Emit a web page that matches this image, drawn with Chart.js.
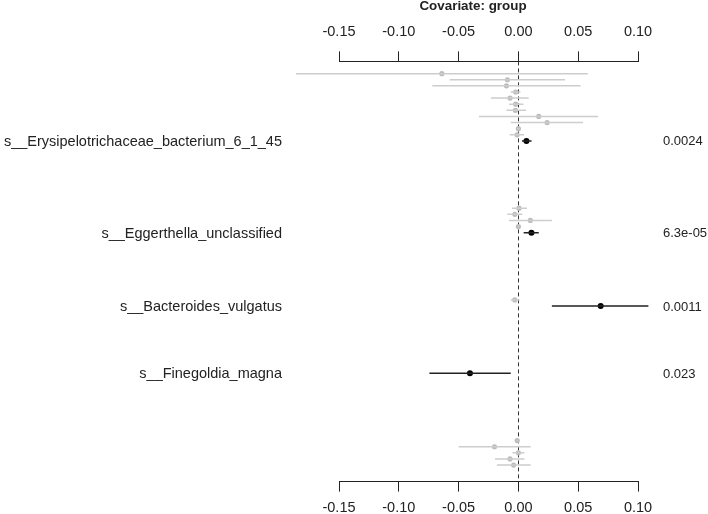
<!DOCTYPE html>
<html>
<head>
<meta charset="utf-8">
<script src="https://cdn.jsdelivr.net/npm/chart.js@4.4.1/dist/chart.umd.min.js"></script>
<style>
  html, body { margin: 0; padding: 0; background: #fff; }
  canvas { display: block; }
</style>
</head>
<body>
<canvas id="forest" width="708" height="514"></canvas>
<script>
// --- DATA ---
const xTicks = [-0.15, -0.10, -0.05, 0.00, 0.05, 0.10];

// non-significant features (grey), row index counted from the top
const otherRows = [0, 1, 2, 3, 4, 5, 6, 7, 8, 9, 10, 22, 23, 24, 25, 37, 60, 61, 62, 63, 64];
const otherEst  = [-0.064, -0.0092, -0.010, -0.0023, -0.007, -0.0023, -0.0025, 0.017, 0.024, 0.000, -0.0011,
                   0.0005, -0.003, 0.010, 0.000, -0.003, -0.001, -0.020, 0.000, -0.007, -0.004];
const otherLow  = [-0.186, -0.0574, -0.072, -0.0064, -0.023, -0.0078, -0.010, -0.033, -0.0064, -0.001, -0.0073,
                   -0.0053, -0.0092, -0.0078, -0.0005, -0.0064, -0.0015, -0.050, -0.005, -0.0196, -0.018];
const otherHigh = [0.058, 0.039, 0.052, 0.0017, 0.0086, 0.0042, 0.0064, 0.0666, 0.054, 0.001, 0.0047,
                   0.0072, 0.0033, 0.028, 0.0005, 0.001, -0.0005, 0.0103, 0.005, 0.005, 0.0103];

// significant features (black)
const sigRows  = [11, 26, 38, 49];
const sigNames = ['s__Erysipelotrichaceae_bacterium_6_1_45', 's__Eggerthella_unclassified',
                  's__Bacteroides_vulgatus', 's__Finegoldia_magna'];
const sigEst   = [0.0067, 0.0109, 0.0688, -0.0405];
const sigLow   = [0.003, 0.0044, 0.028, -0.0744];
const sigHigh  = [0.011, 0.017, 0.1087, -0.0064];
const sigPvals = ['0.0024', '6.3e-05', '0.0011', '0.023'];

const FONT = "'Liberation Sans', Arial, sans-serif";
const INK = '#222';

// interval segments, broken by null points
function segments(rows, lo, hi) {
    const out = [];
    rows.forEach((r, i) => {
        out.push({ x: lo[i], y: r }, { x: hi[i], y: r }, { x: null, y: null });
    });
    return out;
}
const points = (rows, est) => rows.map((r, i) => ({ x: est[i], y: r }));

// dashed zero line + side texts
const forestDecor = {
    id: 'forestDecor',
    beforeDatasetsDraw(chart) {
        const { ctx, chartArea, scales } = chart;
        const x0 = Math.round(scales.x.getPixelForValue(0)) + 0.5;
        ctx.save();
        ctx.strokeStyle = '#333';
        ctx.lineWidth = 1;
        ctx.setLineDash([4, 3]);
        ctx.beginPath();
        ctx.moveTo(x0, chartArea.top);
        ctx.lineTo(x0, chartArea.bottom);
        ctx.stroke();
        ctx.restore();
    },
    afterDraw(chart) {
        const { ctx, scales } = chart;
        ctx.save();
        ctx.fillStyle = INK;
        ctx.textBaseline = 'middle';
        sigRows.forEach((r, i) => {
            const y = scales.y.getPixelForValue(r) + 1;
            ctx.font = `14.5px ${FONT}`;
            ctx.textAlign = 'right';
            ctx.fillText(sigNames[i], 282, y);
            ctx.font = `13px ${FONT}`;
            ctx.textAlign = 'left';
            ctx.fillText(sigPvals[i], 663, y);
        });
        // title
        ctx.font = `bold 13.4px ${FONT}`;
        ctx.textAlign = 'center';
        ctx.textBaseline = 'alphabetic';
        ctx.fillText('Covariate: group', 473, 10);
        ctx.restore();
    }
};

const xAxis = (position, pad) => ({
    type: 'linear',
    position: position,
    min: -0.15,
    max: 0.10,
    afterBuildTicks: axis => { axis.ticks = xTicks.map(v => ({ value: v })); },
    grid: { drawOnChartArea: false, drawTicks: true, tickLength: 10, color: INK, lineWidth: 1 },
    border: { display: true, color: INK, width: 1 },
    ticks: {
        color: INK,
        padding: pad,
        maxRotation: 0,
        font: { family: FONT, size: 14.5 },
        callback: v => v.toFixed(2)
    }
});

new Chart(document.getElementById('forest'), {
    type: 'scatter',
    data: {
        datasets: [
            { data: segments(otherRows, otherLow, otherHigh), showLine: true, spanGaps: false,
              borderColor: '#cdcdcd', borderWidth: 1.5, pointRadius: 0, clip: false, xAxisID: 'x', yAxisID: 'y' },
            { data: points(otherRows, otherEst), pointRadius: 2.6, pointBackgroundColor: '#bcbcbc',
              pointBorderWidth: 0, clip: false },
            { data: segments(sigRows, sigLow, sigHigh), showLine: true, spanGaps: false,
              borderColor: INK, borderWidth: 1.5, pointRadius: 0, clip: false },
            { data: points(sigRows, sigEst), pointRadius: 3, pointBackgroundColor: '#000',
              pointBorderWidth: 0, clip: false }
        ]
    },
    options: {
        responsive: false,
        animation: false,
        events: [],
        layout: { padding: { left: 339, right: 70, top: 12, bottom: -11 } },
        plugins: { legend: { display: false }, tooltip: { enabled: false }, title: { display: false } },
        scales: {
            xTop: xAxis('top', 11),
            x: xAxis('bottom', 8),
            y: { type: 'linear', reverse: true, min: -2, max: 66.7, display: false }
        }
    },
    plugins: [forestDecor]
});
</script>
</body>
</html>
